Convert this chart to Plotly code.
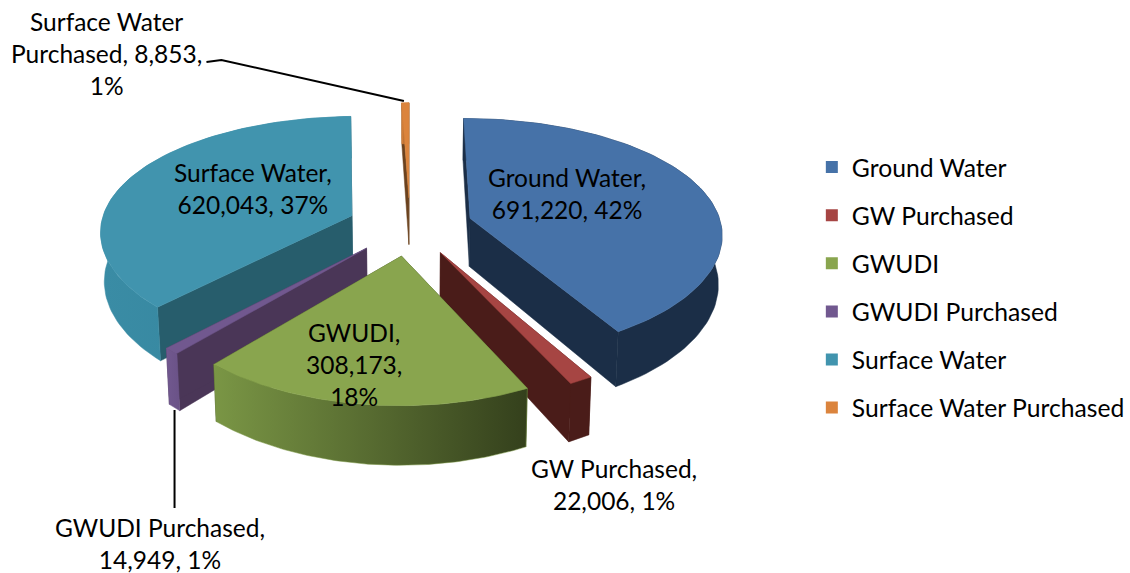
import numpy as np
import plotly.graph_objects as go

categories = ["Ground Water", "GW Purchased", "GWUDI", "GWUDI Purchased", "Surface Water", "Surface Water Purchased"]
values = [691220, 22006, 308173, 14949, 620043, 8853]
percents = [42, 1, 18, 1, 37, 1]
top_colors = ["#4672a8", "#a64543", "#89a54e", "#71588f", "#4194ae", "#db843d"]
wall_colors = ["#1b2e47", "#4a1c19", "#37431e", "#4a3657", "#275d6c", "#6b421f"]
side_scales = [
    ["#1b2e47", "#1b2e47"], ["#4a1c19", "#4a1c19"], ["#7a9645", "#34401c"],
    ["#71588f", "#6a5287"], ["#3a8ca5", "#33829a"], ["#db843d", "#6b421f"],
]
label_breaks = [
    "{n},<br>{v}, {p}%", "{n},<br>{v}, {p}%", "{n},<br>{v},<br>{p}%",
    "{n},<br>{v}, {p}%", "{n},<br>{v}, {p}%", "Surface Water<br>Purchased, {v},<br>{p}%",
]
label_pos = [(569, 193), (616, 484), (355, 364), (160, 543), (254, 188), (107, 53)]
draw_order = [5, 4, 0, 3, 1, 2]

# projection of the exploded, tilted pie
CX, CY, RX, RY, PERSP_X, PERSP_Y, EXPLODE, DEPTH, START, TAPER = (
    411, 226, 252, 117, 0.12, 0.15, 0.25, 48.5, 0.0, 0.012)


def project(theta, r, z, mid):
    X = r * np.sin(theta) + EXPLODE * np.sin(mid)
    Y = -r * np.cos(theta) - EXPLODE * np.cos(mid)
    wx = (1 - TAPER * z) / (1 - PERSP_X * Y)
    wy = 1 / (1 - PERSP_Y * Y)
    return CX + RX * X * wx, CY + (RY * Y + DEPTH * z) * wy


def poly(fig, xs, ys, color, name, scale=None):
    kw = {}
    if scale:
        kw["fillgradient"] = dict(type="horizontal", colorscale=[[0, scale[0]], [1, scale[1]]])
    else:
        kw["fillcolor"] = color
    fig.add_trace(go.Scatter(
        x=list(xs) + [xs[0]], y=list(ys) + [ys[0]], mode="lines", fill="toself",
        line=dict(width=0.5, color=color), showlegend=False, name=name, hoverinfo="name", **kw))


total = sum(values)
fractions = np.array(values) / total * 2 * np.pi
starts = np.radians(START) + np.concatenate([[0], np.cumsum(fractions)[:-1]])

fig = go.Figure()
for i in draw_order:
    a0, a1 = starts[i], starts[i] + fractions[i]
    mid = (a0 + a1) / 2
    th = np.linspace(a0, a1, 90)
    ax0, ay0 = project(a0, 0, 0, mid)
    ax1, ay1 = project(a0, 0, 1, mid)
    for edge in (a0, a1):
        ex0, ey0 = project(edge, 1, 0, mid)
        ex1, ey1 = project(edge, 1, 1, mid)
        poly(fig, [ax0, ex0, ex1, ax1], [ay0, ey0, ey1, ay1], wall_colors[i], categories[i])
    tx, ty = project(th, 1, 0, mid)
    bx, by = project(th, 1, 1, mid)
    poly(fig, np.concatenate([tx, bx[::-1]]), np.concatenate([ty, by[::-1]]),
         side_scales[i][0], categories[i], scale=side_scales[i])
    poly(fig, np.concatenate([[ax0], tx]), np.concatenate([[ay0], ty]), top_colors[i], categories[i])

for name, color in zip(categories, top_colors):
    fig.add_trace(go.Scatter(
        x=[None], y=[None], mode="markers", name=name, legendgroup=name,
        marker=dict(symbol="square", size=15, color=color)))

FONT = "Lato, Carlito, sans-serif"
for i, (px, py) in enumerate(label_pos):
    fig.add_annotation(
        x=px, y=py, xref="x", yref="y", showarrow=False, align="center",
        font=dict(family=FONT, size=24.5, color="#000000"),
        text=label_breaks[i].format(n=categories[i], v=f"{values[i]:,}", p=percents[i]))

for path in ("M 207 62 L 222 60 L 405 101", "M 175 410 L 175 508"):
    fig.add_shape(type="path", path=path, xref="x", yref="y", line=dict(color="#000000", width=2))

fig.update_layout(
    width=1130, height=573, margin=dict(l=0, r=0, t=0, b=0),
    paper_bgcolor="#ffffff", plot_bgcolor="#ffffff",
    xaxis=dict(range=[0, 1130], visible=False, fixedrange=True),
    yaxis=dict(range=[573, 0], visible=False, fixedrange=True),
    legend=dict(x=814 / 1130, y=1 - 144.5 / 573, xanchor="left", yanchor="top",
                tracegroupgap=13, itemsizing="constant",
                font=dict(family=FONT, size=24.7, color="#000000")),
)
fig.write_html("out.html", post_script="document.body.style.margin='0';",
               config={"displayModeBar": False})
